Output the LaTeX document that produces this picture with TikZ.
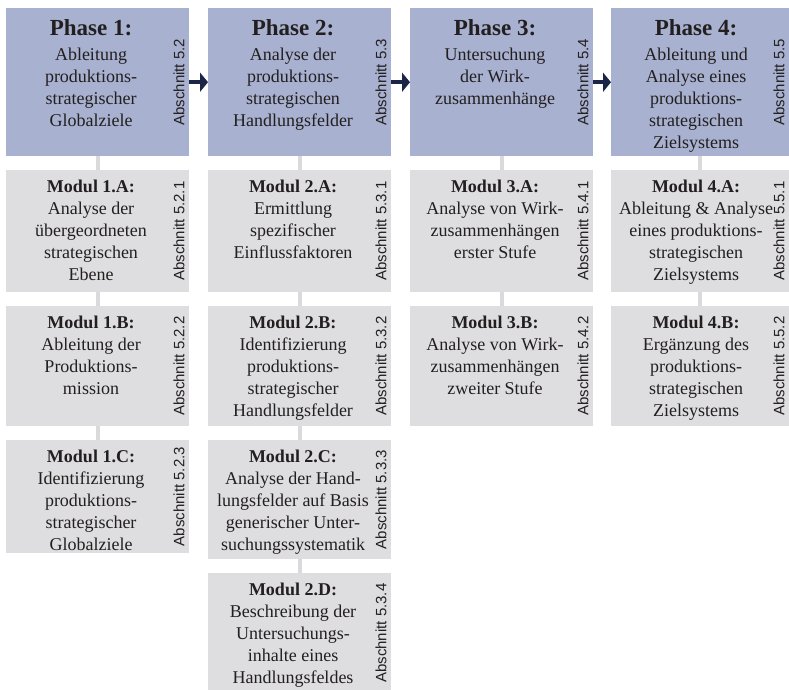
\documentclass[tikz,border=0pt]{standalone}
\usepackage{fontspec}
\setmainfont{Liberation Serif}
\setsansfont{Liberation Sans}
\usetikzlibrary{arrows.meta}

\definecolor{phasefill}{HTML}{A8B1CF}
\definecolor{modfill}{HTML}{DEDEE0}
\definecolor{linkgray}{HTML}{DADADC}
\definecolor{arrownavy}{HTML}{1B2547}
\definecolor{ink}{HTML}{231F20}

\tikzset{
  phasebox/.style={fill=phasefill, draw=none, anchor=north west, inner sep=0pt,
                   minimum width=183pt, minimum height=148pt},
  modbox/.style={fill=modfill, draw=none, anchor=north west, inner sep=0pt,
                 minimum width=183pt},
  lastcol/.style={minimum width=178pt},
  boxtext/.style={anchor=north, align=center, inner sep=0pt, text=ink,
                  font=\fontsize{18}{22}\selectfont},
  seclabel/.style={rotate=90, inner sep=0pt, text=ink,
                   font=\sffamily\fontsize{15}{15}\selectfont},
  link/.style={draw=linkgray, line width=4pt},
  flow/.style={draw=arrownavy, line width=4pt, -{Triangle[length=8pt,width=19pt]}},
}
\newcommand\phasehead[1]{{\fontsize{23}{25}\selectfont\bfseries #1}\\[3pt]}
\newcommand\modhead[1]{\textbf{#1}\\}

\begin{document}
\begin{tikzpicture}[x=1pt,y=-1pt]
\useasboundingbox (0,0) rectangle (789,689);
\clip (0,0) rectangle (789,689);

% ---------- phase boxes ----------
\node[phasebox] (p1) at (6,8) {};
\node[phasebox] (p2) at (208,8) {};
\node[phasebox] (p3) at (410,8) {};
\node[phasebox, lastcol] (p4) at (611,8) {};

% ---------- module boxes ----------
\node[modbox, minimum height=122pt] (m1a) at (6,170) {};
\node[modbox, minimum height=120pt] (m1b) at (6,306) {};
\node[modbox, minimum height=113pt] (m1c) at (6,440) {};

\node[modbox, minimum height=122pt] (m2a) at (208,170) {};
\node[modbox, minimum height=120pt] (m2b) at (208,306) {};
\node[modbox, minimum height=119pt] (m2c) at (208,440) {};
\node[modbox, minimum height=120pt] (m2d) at (208,573) {};

\node[modbox, minimum height=122pt] (m3a) at (410,170) {};
\node[modbox, minimum height=120pt] (m3b) at (410,306) {};

\node[modbox, lastcol, minimum height=122pt] (m4a) at (611,170) {};
\node[modbox, lastcol, minimum height=120pt] (m4b) at (611,306) {};

% ---------- vertical links ----------
\draw[link] (p1.south) -- (m1a.north);
\draw[link] (m1a.south) -- (m1b.north);
\draw[link] (m1b.south) -- (m1c.north);
\draw[link] (p2.south) -- (m2a.north);
\draw[link] (m2a.south) -- (m2b.north);
\draw[link] (m2b.south) -- (m2c.north);
\draw[link] (m2c.south) -- (m2d.north);
\draw[link] (p3.south) -- (m3a.north);
\draw[link] (m3a.south) -- (m3b.north);
\draw[link] (p4.south) -- (m4a.north);
\draw[link] (m4a.south) -- (m4b.north);

% ---------- phase flow arrows ----------
\draw[flow] (p1.east) -- (p2.west);
\draw[flow] (p2.east) -- (p3.west);
\draw[flow] (p3.east) -- (p4.west);

% ---------- phase texts ----------
\node[boxtext] (t1) at ([xshift=85pt,yshift=-11pt]p1.north west)
  {\phasehead{Phase 1:}Ableitung\\produktions-\\strategischer\\Globalziele};
\node[boxtext] (t2) at ([xshift=85pt,yshift=-11pt]p2.north west)
  {\phasehead{Phase 2:}Analyse der\\produktions-\\strategischen\\Handlungsfelder};
\node[boxtext] (t3) at ([xshift=85pt,yshift=-11pt]p3.north west)
  {\phasehead{Phase 3:}Untersuchung\\der Wirk-\\zusammenhänge};
\node[boxtext] (t4) at ([xshift=85pt,yshift=-11pt]p4.north west)
  {\phasehead{Phase 4:}Ableitung und\\Analyse eines\\produktions-\\strategischen\\Zielsystems};

% ---------- module texts ----------
\node[boxtext] (t1a) at ([xshift=85pt,yshift=-10pt]m1a.north west)
  {\modhead{Modul 1.A:}Analyse der\\übergeordneten\\strategischen\\Ebene};
\node[boxtext] (t1b) at ([xshift=85pt,yshift=-10pt]m1b.north west)
  {\modhead{Modul 1.B:}Ableitung der\\Produktions-\\mission};
\node[boxtext] (t1c) at ([xshift=85pt,yshift=-10pt]m1c.north west)
  {\modhead{Modul 1.C:}Identifizierung\\produktions-\\strategischer\\Globalziele};

\node[boxtext] (t2a) at ([xshift=85pt,yshift=-10pt]m2a.north west)
  {\modhead{Modul 2.A:}Ermittlung\\spezifischer\\Einflussfaktoren};
\node[boxtext] (t2b) at ([xshift=85pt,yshift=-10pt]m2b.north west)
  {\modhead{Modul 2.B:}Identifizierung\\produktions-\\strategischer\\Handlungsfelder};
\node[boxtext] (t2c) at ([xshift=85pt,yshift=-10pt]m2c.north west)
  {\modhead{Modul 2.C:}Analyse der Hand-\\lungsfelder auf Basis\\generischer Unter-\\suchungssystematik};
\node[boxtext] (t2d) at ([xshift=85pt,yshift=-10pt]m2d.north west)
  {\modhead{Modul 2.D:}Beschreibung der\\Untersuchungs-\\inhalte eines\\Handlungsfeldes};

\node[boxtext] (t3a) at ([xshift=85pt,yshift=-10pt]m3a.north west)
  {\modhead{Modul 3.A:}Analyse von Wirk-\\zusammenhängen\\erster Stufe};
\node[boxtext] (t3b) at ([xshift=85pt,yshift=-10pt]m3b.north west)
  {\modhead{Modul 3.B:}Analyse von Wirk-\\zusammenhängen\\zweiter Stufe};

\node[boxtext] (t4a) at ([xshift=85pt,yshift=-10pt]m4a.north west)
  {\modhead{Modul 4.A:}Ableitung \& Analyse\\eines produktions-\\strategischen\\Zielsystems};
\node[boxtext] (t4b) at ([xshift=85pt,yshift=-10pt]m4b.north west)
  {\modhead{Modul 4.B:}Ergänzung des\\produktions-\\strategischen\\Zielsystems};

% ---------- section references ----------
\node[seclabel] (s1)  at ([xshift=-10.5pt]p1.east)  {Abschnitt 5.2};
\node[seclabel] (s2)  at ([xshift=-10.5pt]p2.east)  {Abschnitt 5.3};
\node[seclabel] (s3)  at ([xshift=-10.5pt]p3.east)  {Abschnitt 5.4};
\node[seclabel] (s4)  at ([xshift=-10.5pt]p4.east)  {Abschnitt 5.5};
\node[seclabel] (s1a) at ([xshift=-10.5pt]m1a.east) {Abschnitt 5.2.1};
\node[seclabel] (s1b) at ([xshift=-10.5pt]m1b.east) {Abschnitt 5.2.2};
\node[seclabel] (s1c) at ([xshift=-10.5pt]m1c.east) {Abschnitt 5.2.3};
\node[seclabel] (s2a) at ([xshift=-10.5pt]m2a.east) {Abschnitt 5.3.1};
\node[seclabel] (s2b) at ([xshift=-10.5pt]m2b.east) {Abschnitt 5.3.2};
\node[seclabel] (s2c) at ([xshift=-10.5pt]m2c.east) {Abschnitt 5.3.3};
\node[seclabel] (s2d) at ([xshift=-10.5pt]m2d.east) {Abschnitt 5.3.4};
\node[seclabel] (s3a) at ([xshift=-10.5pt]m3a.east) {Abschnitt 5.4.1};
\node[seclabel] (s3b) at ([xshift=-10.5pt]m3b.east) {Abschnitt 5.4.2};
\node[seclabel] (s4a) at ([xshift=-10.5pt]m4a.east) {Abschnitt 5.5.1};
\node[seclabel] (s4b) at ([xshift=-10.5pt]m4b.east) {Abschnitt 5.5.2};
\end{tikzpicture}
\end{document}
